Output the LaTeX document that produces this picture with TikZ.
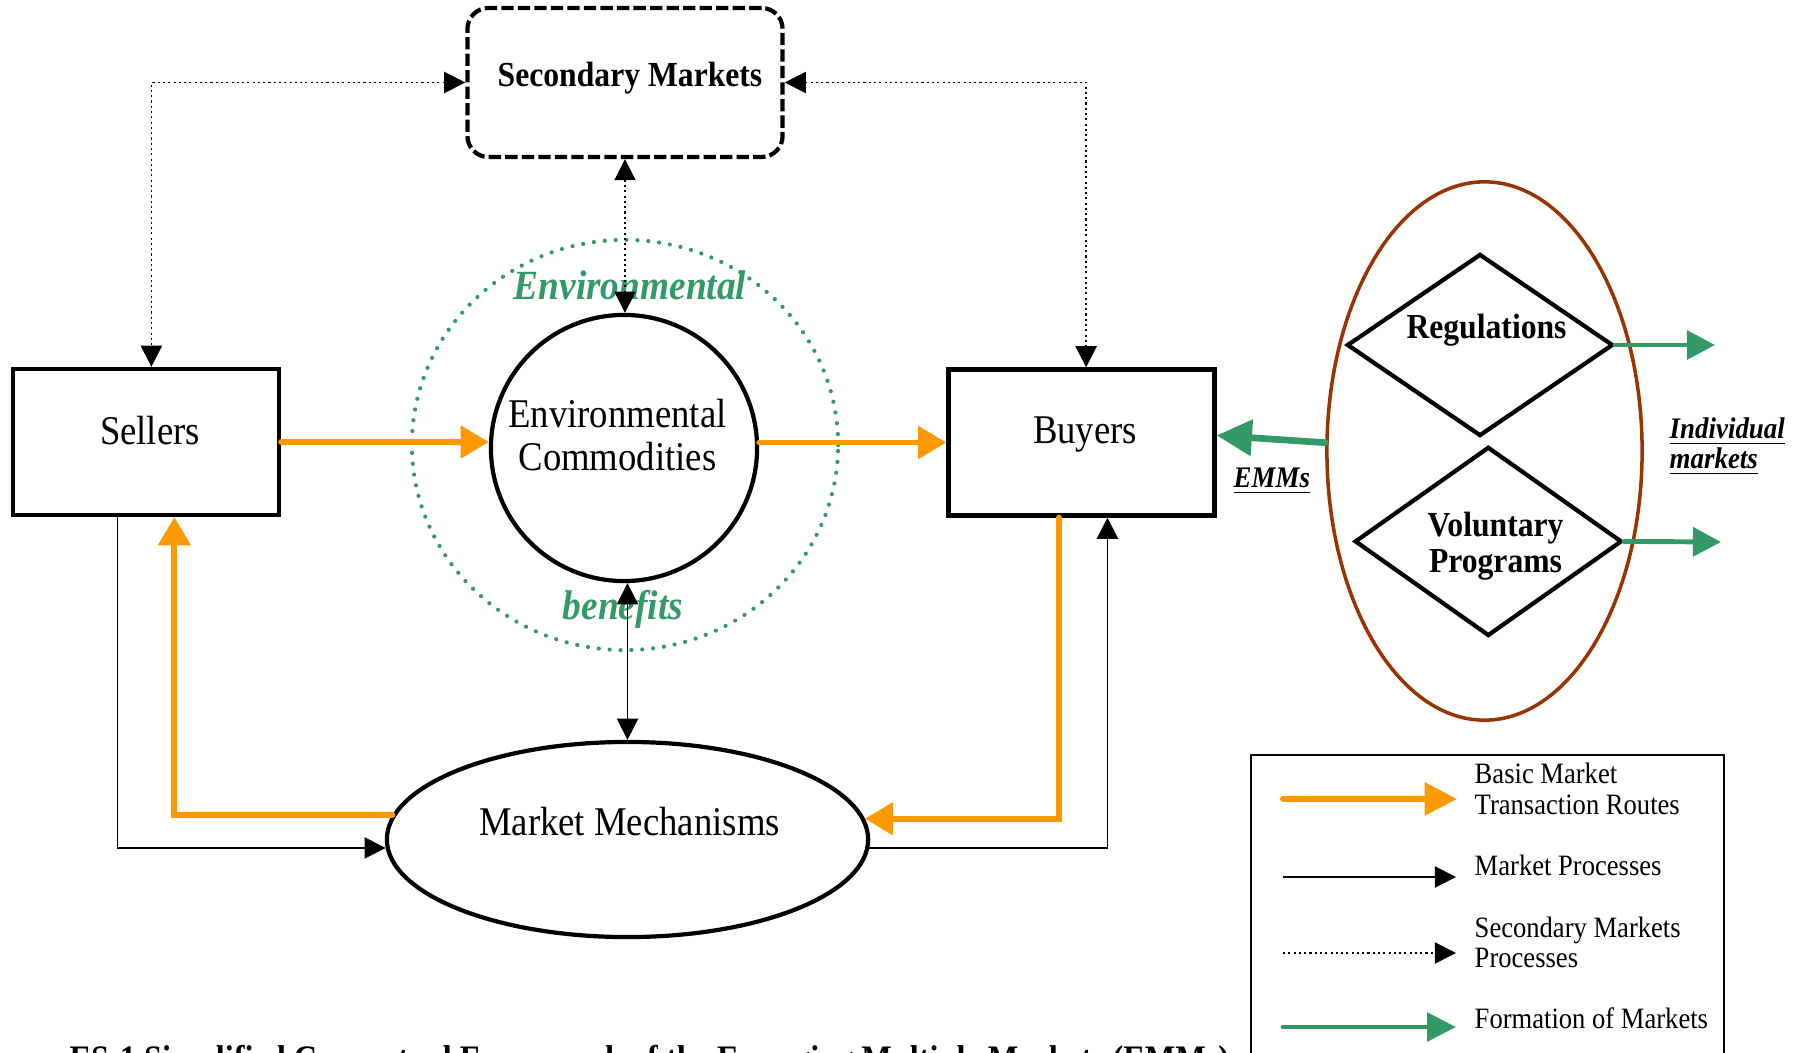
\documentclass[tikz,border=0pt]{standalone}
\usepackage{fontspec}
\setmainfont{Liberation Serif}[FakeStretch=0.9]
\usetikzlibrary{arrows.meta,calc,shapes.geometric}
\definecolor{orng}{HTML}{FF9900}
\definecolor{sgreen}{HTML}{339966}
\definecolor{brwn}{HTML}{993300}
\begin{document}
\begin{tikzpicture}[x=0.01cm,y=-0.01cm,
  box/.style={draw, line width=1.2pt, rectangle, inner sep=0pt, minimum width=2.66cm, minimum height=1.46cm},
  txt/.style={inner sep=0pt, anchor=base, font=\fontsize{11.6}{12}\selectfont},
  btxt/.style={inner sep=0pt, anchor=base, font=\bfseries\fontsize{10}{12}\selectfont},
  gtxt/.style={inner sep=0pt, anchor=base, text=sgreen, font=\bfseries\itshape\fontsize{11.8}{12}\selectfont},
  utxt/.style={inner sep=0pt, anchor=base west, font=\bfseries\itshape\fontsize{8.5}{10}\selectfont},
  ltxt/.style={inner sep=0pt, anchor=base west, font=\fontsize{8.4}{9}\selectfont},
  oline/.style={draw=orng, line width=1.7pt, line cap=round, -{Triangle[length=8pt,width=9pt]}},
  gline/.style={draw=sgreen, line width=1.4pt, line cap=round, -{Triangle[length=8pt,width=8.1pt]}},
  bline/.style={draw, line width=0.5pt, -{Triangle[length=6pt,width=6pt]}},
  bboth/.style={draw, line width=0.5pt, {Triangle[length=6pt,width=6pt]}-{Triangle[length=6pt,width=6pt]}},
  dline/.style={draw, line width=0.5pt, dash pattern=on 0.6pt off 0.9pt, {Triangle[length=6pt,width=6pt]}-{Triangle[length=6pt,width=6pt]}},
  dline1/.style={draw, line width=0.5pt, dash pattern=on 0.6pt off 0.9pt, -{Triangle[length=6pt,width=6pt]}}
]
\useasboundingbox (0,0) rectangle (1807,1052);

% shapes
\node[ellipse, draw=sgreen, line width=1.2pt, dash pattern=on 0pt off 3.1pt, line cap=round, minimum width=4.26cm, minimum height=4.1cm, inner sep=0pt] (ring) at (625,445) {};
\node[box] (sellers) at (146,442) {};
\node[box] (buyers) at (1081.5,442.5) {};
\node[circle, draw, line width=1.2pt, minimum size=2.66cm, inner sep=0pt] (envc) at (624,448) {};
\node[ellipse, draw, line width=1.2pt, minimum width=4.81cm, minimum height=1.95cm, inner sep=0pt] (mm) at (627.5,839.5) {};
\node[draw, line width=1.2pt, dash pattern=on 3.5pt off 1.2pt, rounded corners=6pt, minimum width=3.15cm, minimum height=1.49cm, inner sep=0pt] (sec) at (625,82.5) {};
\node[ellipse, draw=brwn, line width=1pt, minimum width=3.15cm, minimum height=5.38cm, inner sep=0pt] (grp) at (1484.5,451) {};
\node[diamond, draw, line width=1.2pt, minimum width=2.66cm, minimum height=1.82cm, inner sep=0pt] (reg) at (1480,345) {};
\node[diamond, draw, line width=1.2pt, minimum width=2.67cm, minimum height=1.89cm, inner sep=0pt] (vol) at (1488.3,541.4) {};
\node[draw, line width=0.6pt, minimum width=4.73cm, minimum height=3.6cm, anchor=north west, inner sep=0pt] (legend) at (1250,754) {};

% texts
\node[txt] (sellers-t) at (150,444) {Sellers};
\node[txt] (buyers-t) at (1085,443) {Buyers};
\node[txt] (envc-t1) at (617.5,427) {Environmental};
\node[txt] (envc-t2) at (617.5,470) {Commodities};
\node[txt] (mm-t) at (629.5,835) {Market Mechanisms};
\node[btxt] (sec-t) at (630,87) {Secondary Markets};
\node[btxt] (reg-t) at (1486.5,338) {Regulations};
\node[btxt] (vol-t1) at (1495.5,536) {Voluntary};
\node[btxt] (vol-t2) at (1495.5,572) {Programs};
\node[gtxt] (env-g) at (630,300) {Environmental};
\node[gtxt] (ben-g) at (623,619) {benefits};
\node[utxt] (emms) at (1233,487) {\underline{EMMs}};
\node[utxt] (ind1) at (1669,438) {\underline{Individual}};
\node[utxt] (ind2) at (1669,468) {\underline{markets}};

% connectors: basic market transaction routes
\draw[oline] (sellers.east) -- (sellers.east -| envc.west);
\draw[oline] (envc.east |- buyers.west) -- (buyers.west);
\draw[oline] ($(buyers.south west)!0.416!(buyers.south east)$) |- (mm.5);
\draw[oline] (mm.174) -| ($(sellers.south west)!0.605!(sellers.south east)$);

% market processes
\draw[bline] ($(sellers.south west)!0.395!(sellers.south east)$) |- (mm.182);
\draw[bline] (mm.-2) -| ($(buyers.south west)!0.596!(buyers.south east)$);
\draw[bboth] (mm.north |- envc.south) -- (mm.north);

% secondary markets processes
\draw[dline] (sec.west) -| ($(sellers.north west)!0.52!(sellers.north east)$);
\draw[dline] (sec.east) -| ($(buyers.north west)!0.517!(buyers.north east)$);
\draw[dline] (sec.south) -- (sec.south |- envc.north);

% formation of markets
\coordinate (indA) at (1715,345);
\coordinate (indB) at (1721,542);
\draw[gline] (reg.east) -- (indA);
\draw[gline] (vol.east) -- (indB);
\draw[gline, line width=1.9pt, -{Triangle[length=10pt,width=10pt]}] (grp.177) -- (buyers.3);

% legend
\coordinate (l1a) at (1283,799); \coordinate (l1b) at (1457,799);
\coordinate (l2a) at (1283,877); \coordinate (l2b) at (1456,877);
\coordinate (l3a) at (1283,953); \coordinate (l3b) at (1456,953);
\coordinate (l4a) at (1283,1027); \coordinate (l4b) at (1456,1027);
\draw[oline, -{Triangle[length=9.2pt,width=9.1pt]}] (l1a) -- (l1b);
\draw[bline] (l2a) -- (l2b);
\draw[dline1] (l3a) -- (l3b);
\draw[gline, -{Triangle[length=8.2pt,width=8pt]}] (l4a) -- (l4b);
\node[ltxt] (lt1) at (1474,783) {Basic Market};
\node[ltxt] (lt2) at (1474,814) {Transaction Routes};
\node[ltxt] (lt3) at (1474,875) {Market Processes};
\node[ltxt] (lt4) at (1474,937) {Secondary Markets};
\node[ltxt] (lt5) at (1474,967) {Processes};
\node[ltxt] (lt6) at (1474,1028) {Formation of Markets};

% caption (cut off at the page edge)
\node[anchor=base west, inner sep=0pt, font=\bfseries\fontsize{10.2}{12}\selectfont] (caption) at (69,1070) {ES-1 Simplified Conceptual Framework of the Emerging Multiple Markets (EMMs)};
\end{tikzpicture}
\end{document}
